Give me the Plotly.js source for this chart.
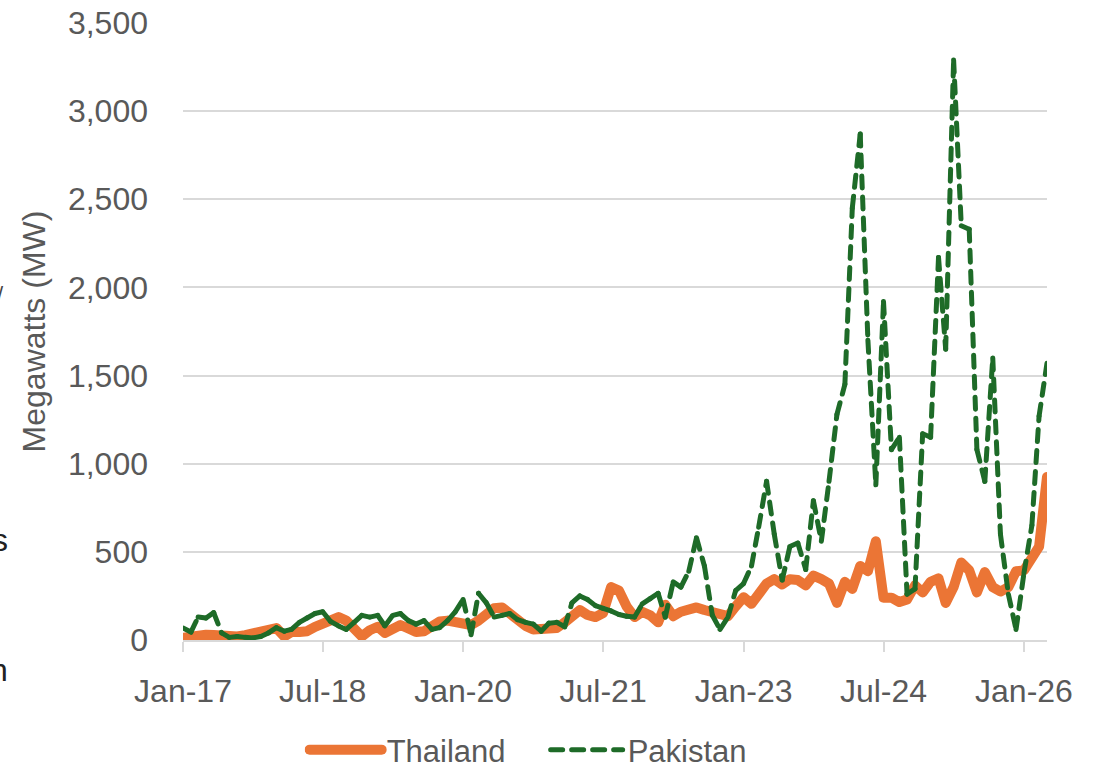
<!DOCTYPE html>
<html><head><meta charset="utf-8">
<script src="https://cdn.plot.ly/plotly-3.0.1.min.js"></script>
<style>
html,body{margin:0;padding:0;background:#fff;}
#chart{width:1102px;height:772px;}
.scatterlayer path.js-line{stroke-linecap:round;stroke-linejoin:round;}
.legendlines path{stroke-linecap:round;}
</style></head><body><div id="chart"></div>
<script>
// Monthly series, Jan-2017 .. Apr-2026 (112 months), megawatts
const startYear = 2017;
const thailand = [
  12, 18, 35, 30, 28, 22, 18, 20, 28, 38, 48, 58,
  68, 20, 45, 45, 50, 75, 95, 110, 130, 110, 70, 20,
  55, 75, 40, 60, 85, 65, 45, 50, 75, 105, 110, 105,
  96, 85, 110, 150, 180, 185, 145, 110, 80, 60, 60, 74,
  68, 100, 140, 170, 142, 130, 153, 300, 280, 190, 130, 160,
  140, 100, 200, 135, 160, 180, 185, 170, 155, 140, 135, 190,
  243, 205, 250, 320, 345, 315, 345, 340, 310, 365, 345, 320,
  210, 330, 290, 420, 390, 560, 240, 240, 215, 230, 310, 270,
  330, 350, 210, 300, 440, 395, 270, 385, 300, 275, 300, 390,
  395, 480, 530, 925
];
const pakistan = [
  68, 45, 130, 125, 155, 40, 15, 20, 15, 12, 20, 40,
  70, 50, 60, 100, 125, 150, 160, 105, 80, 60, 100, 140,
  130, 140, 80, 140, 150, 110, 90, 110, 60, 70, 110, 160,
  230, 30, 265, 210, 130, 140, 150, 115, 100, 90, 50, 95,
  100, 75, 210, 250, 230, 195, 180, 165, 145, 135, 130, 205,
  235, 265, 130, 330, 300, 390, 580, 420, 140, 60, 130, 280,
  320, 420, 640, 900, 600, 340, 530, 550, 400, 790, 560, 900,
  1280, 1450, 2450, 2870, 1700, 880, 1920, 1080, 1150, 260, 290, 1170,
  1150, 2170, 1650, 3290, 2350, 2330, 1080, 900, 1600, 600, 260, 60,
  380, 650, 1270, 1570
];
const tickDates = ['2017-01-01','2018-07-01','2020-01-01','2021-07-01','2023-01-01','2024-07-01','2026-01-01'];
const tickLabels = ['Jan-17','Jul-18','Jan-20','Jul-21','Jan-23','Jul-24','Jan-26'];
const seriesNames = ['Thailand','Pakistan'];

const months = thailand.map((_, i) => {
  const y = startYear + Math.floor(i / 12);
  const m = (i % 12) + 1;
  return y + '-' + String(m).padStart(2, '0') + '-01';
});

const ORANGE = '#EB7535';
const GREEN = '#1E6B28';
const GREY = '#595959';
const FONT = 'Liberation Sans, Arial, sans-serif';

const traces = [{
  x: months, y: thailand, name: seriesNames[0], type: 'scatter', mode: 'lines',
  line: {color: ORANGE, width: 10}, hoverinfo: 'x+y'
}];
// Pakistan: dashed line whose dash pattern restarts on every segment
for (let i = 0; i < pakistan.length - 1; i++) {
  traces.push({
    x: [months[i], months[i + 1]], y: [pakistan[i], pakistan[i + 1]],
    name: seriesNames[1], legendgroup: 'pk', showlegend: i === 0,
    type: 'scatter', mode: 'lines',
    line: {color: GREEN, width: 5, dash: '12px,9px'}, hoverinfo: 'x+y'
  });
}

const layout = {
  width: 1102, height: 772,
  margin: {l: 183, r: 55, t: 23, b: 132, autoexpand: false},
  paper_bgcolor: '#fff', plot_bgcolor: '#fff',
  font: {family: FONT, color: GREY},
  showlegend: true,
  legend: {
    orientation: 'h', x: 0.1408, xanchor: 'left', y: -0.1345, yanchor: 'top',
    font: {size: 31, color: GREY, family: FONT}, itemwidth: 72,
    entrywidth: 154, entrywidthmode: 'pixels', traceorder: 'normal'
  },
  xaxis: {
    type: 'date', range: [months[0], months[months.length - 1]],
    tickvals: tickDates, ticktext: tickLabels,
    showgrid: false, zeroline: false, automargin: false,
    showline: true, linecolor: '#D9D9D9', linewidth: 2,
    ticks: 'outside', ticklen: 10, tickcolor: '#D9D9D9', tickwidth: 2,
    ticklabelstandoff: 12,
    tickfont: {size: 32, color: GREY, family: FONT}
  },
  yaxis: {
    range: [0, 3500], dtick: 500, tick0: 0, tickformat: ',',
    showgrid: true, gridcolor: '#D9D9D9', gridwidth: 2, automargin: false,
    zeroline: false, showline: false,
    ticks: '', ticklabelstandoff: 34,
    tickfont: {size: 32, color: GREY, family: FONT},
    title: {text: 'Megawatts (MW)', standoff: 12, font: {size: 32, color: GREY, family: FONT}}
  },
  annotations: [
    {text: 's', xref: 'paper', yref: 'paper', x: -0.200, y: 0.162, xanchor: 'right', yanchor: 'middle', showarrow: false, font: {size: 32, color: '#222', family: FONT}},
    {text: 'n', xref: 'paper', yref: 'paper', x: -0.200, y: -0.049, xanchor: 'right', yanchor: 'middle', showarrow: false, font: {size: 32, color: '#222', family: FONT}},
    {text: '/', xref: 'paper', yref: 'paper', x: -0.205, y: 0.56, xanchor: 'right', yanchor: 'middle', showarrow: false, font: {size: 22, color: '#444', family: FONT}}
  ]
};

Plotly.newPlot('chart', traces, layout, {displayModeBar: false, responsive: false});
</script></body></html>
